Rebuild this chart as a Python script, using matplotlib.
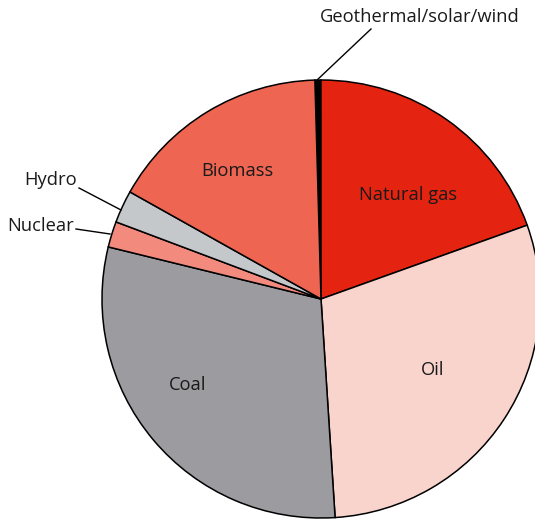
import matplotlib
matplotlib.use("Agg")
import matplotlib.pyplot as plt
import numpy as np

categories = ["Geothermal/solar/wind", "Natural gas", "Oil", "Coal", "Nuclear", "Hydro", "Biomass"]
values = [0.44, 19.5, 29.4, 29.8, 1.9, 2.4, 16.4]
colors = ["#000000", "#E42410", "#F9D4CD", "#9C9B9F", "#F28B7D", "#C5C8CB", "#EE6552"]

plt.rcParams['font.family'] = ['Open Sans', 'DejaVu Sans']

W, H = 535, 521
cx, cy, R = 321, 299, 219
fig = plt.figure(figsize=(W / 100, H / 100), dpi=100)
ax = fig.add_axes([0, 0, 1, 1])

wedges, _ = ax.pie(values, colors=colors, startangle=91.6, counterclock=False,
                   radius=1, center=(0, 0),
                   wedgeprops=dict(edgecolor='black', linewidth=1.1))
ax.set_xlim(-cx / R, (W - cx) / R)
ax.set_ylim(-(H - cy) / R, cy / R)
ax.set_aspect('equal')
ax.axis('off')

def px(x, y):
    return ((x - cx) / R, (cy - y) / R)

fs = 13.2
tc = '#1a1a1a'
inside = {"Biomass": (237, 171), "Natural gas": (408, 195), "Oil": (433, 370), "Coal": (188, 385)}
for name, (x, y) in inside.items():
    ax.text(*px(x, y), name, ha='center', va='center', fontsize=fs, color=tc)

# outside labels with leader lines
ax.text(*px(520, 17), "Geothermal/solar/wind", ha='right', va='center', fontsize=fs, color=tc)
ax.plot(*zip(px(316, 81), px(371, 29)), color='black', lw=1.0)

ax.text(*px(77, 180), "Hydro", ha='right', va='center', fontsize=fs, color=tc)
ax.plot(*zip(px(79, 188), px(121, 210)), color='black', lw=1.0)

ax.text(*px(74, 226), "Nuclear", ha='right', va='center', fontsize=fs, color=tc)
ax.plot(*zip(px(76, 229), px(110, 234)), color='black', lw=1.0)

fig.savefig("out.png", dpi=100)
